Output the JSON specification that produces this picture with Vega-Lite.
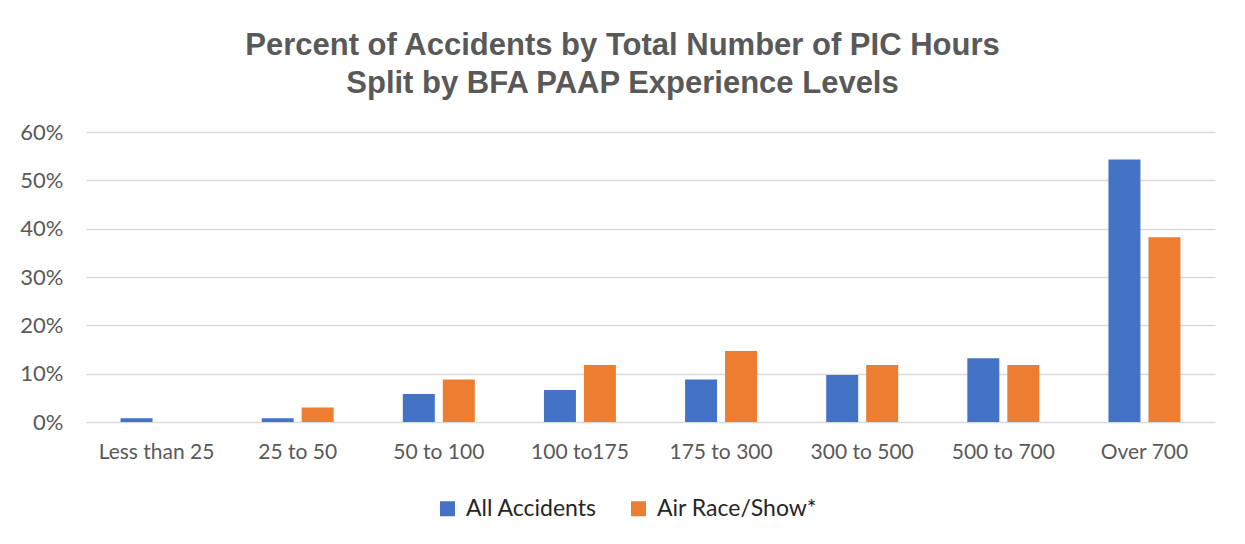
{
  "$schema": "https://vega.github.io/schema/vega-lite/v6.json",
  "autosize": {"type": "none"},
  "width": 1129,
  "height": 290,
  "padding": {"left": 86, "top": 132, "right": 30, "bottom": 122},
  "background": "white",
  "title": {
    "text": ["Percent of Accidents by Total Number of PIC Hours", "Split by BFA PAAP Experience Levels"],
    "font": "Liberation Sans",
    "fontSize": 31,
    "fontWeight": "bold",
    "color": "#595959",
    "anchor": "middle",
    "dx": -28,
    "offset": 21,
    "lineHeight": 38
  },
  "data": {
    "values": [
      {"group": "Less than 25", "series": "All Accidents", "pct": 0.008},
      {"group": "Less than 25", "series": "Air Race/Show*", "pct": 0.0},
      {"group": "25 to 50", "series": "All Accidents", "pct": 0.008},
      {"group": "25 to 50", "series": "Air Race/Show*", "pct": 0.03},
      {"group": "50 to 100", "series": "All Accidents", "pct": 0.058},
      {"group": "50 to 100", "series": "Air Race/Show*", "pct": 0.088},
      {"group": "100 to175", "series": "All Accidents", "pct": 0.066},
      {"group": "100 to175", "series": "Air Race/Show*", "pct": 0.118},
      {"group": "175 to 300", "series": "All Accidents", "pct": 0.088},
      {"group": "175 to 300", "series": "Air Race/Show*", "pct": 0.147},
      {"group": "300 to 500", "series": "All Accidents", "pct": 0.097},
      {"group": "300 to 500", "series": "Air Race/Show*", "pct": 0.118},
      {"group": "500 to 700", "series": "All Accidents", "pct": 0.132},
      {"group": "500 to 700", "series": "Air Race/Show*", "pct": 0.118},
      {"group": "Over 700", "series": "All Accidents", "pct": 0.543},
      {"group": "Over 700", "series": "Air Race/Show*", "pct": 0.382}
    ]
  },
  "mark": {"type": "bar"},
  "encoding": {
    "x": {
      "field": "group",
      "type": "nominal",
      "sort": null,
      "scale": {"paddingInner": 0.49, "paddingOuter": 0.245},
      "axis": {
        "title": null,
        "labelAngle": 0,
        "domain": false,
        "ticks": false,
        "labelFont": "Lato",
        "labelFontSize": 21,
        "labelColor": "#595959",
        "labelPadding": 19
      }
    },
    "xOffset": {
      "field": "series",
      "type": "nominal",
      "sort": ["All Accidents", "Air Race/Show*"],
      "scale": {"paddingInner": 0.2, "paddingOuter": 0}
    },
    "y": {
      "field": "pct",
      "type": "quantitative",
      "scale": {"domain": [0, 0.6], "nice": false},
      "axis": {
        "title": null,
        "format": ".0%",
        "values": [0, 0.1, 0.2, 0.3, 0.4, 0.5, 0.6],
        "domain": false,
        "ticks": false,
        "labelFont": "Lato",
        "labelFontSize": 22,
        "labelColor": "#595959",
        "labelPadding": 23,
        "gridColor": "#d9d9d9",
        "gridWidth": 1.5
      }
    },
    "color": {
      "field": "series",
      "type": "nominal",
      "sort": ["All Accidents", "Air Race/Show*"],
      "scale": {"domain": ["All Accidents", "Air Race/Show*"], "range": ["#4472C4", "#ED7D31"]},
      "legend": {
        "title": null,
        "orient": "none",
        "direction": "horizontal",
        "legendX": 350,
        "legendY": 365,
        "symbolType": "square",
        "symbolSize": 225,
        "symbolStrokeWidth": 0,
        "labelFont": "Lato",
        "labelFontSize": 23,
        "labelLimit": 400,
        "labelColor": "#262626",
        "labelOffset": 7,
        "columnPadding": 30
      }
    }
  },
  "config": {
    "view": {"stroke": null}
  }
}
